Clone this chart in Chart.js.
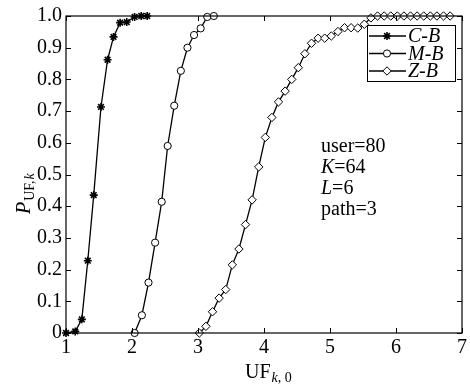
<!DOCTYPE html>
<html>
<head>
<meta charset="utf-8">
<script src="https://cdn.jsdelivr.net/npm/chart.js@4.4.0/dist/chart.umd.min.js"></script>
<style>
  html, body { margin: 0; padding: 0; background: #fff; }
  #wrap { width: 470px; height: 388px; }
</style>
</head>
<body>
<div id="wrap"><canvas id="myChart" width="470" height="388"></canvas></div>
<script>
const seriesNames = ['C-B', 'M-B', 'Z-B'];

const cbX = [1.00, 1.14, 1.24, 1.33, 1.42, 1.53, 1.63, 1.72, 1.82, 1.92, 2.04, 2.14, 2.23];
const cbY = [0, 0.005, 0.043, 0.228, 0.435, 0.713, 0.862, 0.934, 0.979, 0.981, 0.997, 1.0, 1.0];

const mbX = [2.04, 2.15, 2.25, 2.35, 2.45, 2.54, 2.64, 2.74, 2.84, 2.94, 3.04, 3.14, 3.24];
const mbY = [0, 0.056, 0.159, 0.285, 0.414, 0.59, 0.717, 0.827, 0.90, 0.94, 0.961, 0.997, 1.0];

const zbX = [3.02, 3.12, 3.22, 3.32, 3.42, 3.52, 3.62, 3.72, 3.82, 3.92,
             4.02, 4.12, 4.22, 4.32, 4.42, 4.52, 4.62, 4.72, 4.82, 4.92,
             5.02, 5.12, 5.22, 5.32, 5.42, 5.52, 5.62, 5.72, 5.82, 5.92,
             6.02, 6.12, 6.22, 6.32, 6.42, 6.52, 6.62, 6.72, 6.82];
const zbY = [0, 0.021, 0.067, 0.110, 0.137, 0.215, 0.265, 0.342, 0.420, 0.524,
             0.617, 0.680, 0.729, 0.763, 0.800, 0.837, 0.881, 0.914, 0.930, 0.930,
             0.937, 0.951, 0.963, 0.963, 0.962, 0.974, 0.994, 1.0, 1.0, 1.0,
             1.0, 1.0, 1.0, 1.0, 1.0, 1.0, 1.0, 1.0, 1.0];

const xTicks = [1, 2, 3, 4, 5, 6, 7];
const yTicks = [0, 0.1, 0.2, 0.3, 0.4, 0.5, 0.6, 0.7, 0.8, 0.9, 1.0];
const paramLines = [['user', '=80'], ['K', '=64'], ['L', '=6'], ['path', '=3']];

const SERIF = "'Liberation Serif', 'Times New Roman', serif";

function pts(xs, ys) {
  return xs.map((x, i) => ({ x: x, y: ys[i] }));
}

// inward ticks, frame, legend box, parameter note and axis titles
const decor = {
  id: 'decor',
  afterDraw(chart) {
    const ctx = chart.ctx;
    const a = chart.chartArea;
    const sx = chart.scales.x, sy = chart.scales.y;
    ctx.save();
    ctx.strokeStyle = '#000';
    ctx.lineWidth = 1.2;
    ctx.strokeRect(a.left, a.top, a.right - a.left, a.bottom - a.top);
    ctx.beginPath();
    xTicks.forEach(v => {
      const px = Math.round(sx.getPixelForValue(v)) + 0.5;
      ctx.moveTo(px, a.bottom); ctx.lineTo(px, a.bottom - 5);
      ctx.moveTo(px, a.top); ctx.lineTo(px, a.top + 5);
    });
    yTicks.forEach(v => {
      const py = Math.round(sy.getPixelForValue(v)) + 0.5;
      ctx.moveTo(a.left, py); ctx.lineTo(a.left + 5, py);
      ctx.moveTo(a.right, py); ctx.lineTo(a.right - 5, py);
    });
    ctx.lineWidth = 1;
    ctx.stroke();

    // legend
    const lx = 367, ly = 25, lw = 88, lh = 56;
    ctx.fillStyle = '#fff';
    ctx.fillRect(lx, ly, lw, lh);
    ctx.strokeStyle = '#000';
    ctx.lineWidth = 1;
    ctx.strokeRect(lx + 0.5, ly + 0.5, lw, lh);
    chart.data.datasets.forEach((ds, i) => {
      const y = 36 + i * 17.5;
      ctx.beginPath();
      ctx.moveTo(lx + 2, y); ctx.lineTo(lx + 39, y);
      ctx.lineWidth = 1.3;
      ctx.strokeStyle = '#000';
      ctx.stroke();
      ctx.fillStyle = ds.pointBackgroundColor;
      ctx.strokeStyle = '#000';
      ctx.lineWidth = ds.pointBorderWidth;
      Chart.helpers.drawPoint(ctx, {
        pointStyle: ds.pointStyle, radius: ds.pointRadius, rotation: 0, borderWidth: ds.pointBorderWidth
      }, lx + 20, y);
      ctx.fillStyle = '#000';
      ctx.font = 'italic 20px ' + SERIF;
      ctx.textBaseline = 'middle';
      ctx.textAlign = 'left';
      ctx.fillText(ds.label, lx + 41, y + 1);
    });

    // parameter note
    ctx.fillStyle = '#000';
    ctx.textBaseline = 'alphabetic';
    paramLines.forEach((p, i) => {
      const y = 152 + i * 21;
      const italic = p[0].length === 1;
      ctx.font = (italic ? 'italic ' : '') + '20px ' + SERIF;
      ctx.fillText(p[0], 321, y);
      const w = ctx.measureText(p[0]).width;
      ctx.font = '20px ' + SERIF;
      ctx.fillText(p[1], 321 + w, y);
    });

    // x axis title: UF with subscript k,0
    ctx.font = '20px ' + SERIF;
    ctx.fillText('UF', 245, 378);
    let w = ctx.measureText('UF').width;
    ctx.font = 'italic 14px ' + SERIF;
    ctx.fillText('k', 245 + w + 1, 382);
    let w2 = ctx.measureText('k').width;
    ctx.font = '14px ' + SERIF;
    ctx.fillText(', 0', 245 + w + 1 + w2, 382);

    // y axis title: P with subscript UF,k
    ctx.translate(30, 214);
    ctx.rotate(-Math.PI / 2);
    ctx.font = 'italic 20px ' + SERIF;
    ctx.fillText('P', 0, 0);
    w = ctx.measureText('P').width;
    ctx.font = '14px ' + SERIF;
    ctx.fillText('UF,', w + 1, 4);
    w2 = ctx.measureText('UF,').width;
    ctx.font = 'italic 14px ' + SERIF;
    ctx.fillText('k', w + 2 + w2, 4);
    ctx.restore();
  }
};

function series(label, xs, ys, style, radius, bw) {
  return {
    label: label,
    data: pts(xs, ys),
    borderColor: '#000',
    borderWidth: 1.3,
    backgroundColor: '#fff',
    pointStyle: style,
    pointRadius: radius,
    pointBorderWidth: bw,
    pointBorderColor: '#000',
    pointBackgroundColor: style === 'star' ? '#000' : '#fff',
    tension: 0,
    clip: false
  };
}

var ctx = document.getElementById('myChart').getContext('2d');
var chart = new Chart(ctx, {
  type: 'line',
  data: {
    datasets: [
      series(seriesNames[0], cbX, cbY, 'star', 4, 1.6),
      series(seriesNames[1], mbX, mbY, 'circle', 3.6, 1),
      series(seriesNames[2], zbX, zbY, 'rectRot', 4.2, 1)
    ]
  },
  plugins: [decor],
  options: {
    responsive: false,
    animation: false,
    events: [],
    layout: { padding: { top: 15, right: 1, left: 0, bottom: 0 } },
    plugins: { legend: { display: false }, tooltip: { enabled: false } },
    scales: {
      x: {
        type: 'linear',
        min: 1, max: 7,
        afterFit(s) { s.height = 55; },
        afterBuildTicks(s) { s.ticks = xTicks.map(v => ({ value: v })); },
        grid: { display: false, drawTicks: false },
        border: { display: false },
        ticks: { color: '#000', padding: 3, font: { family: SERIF, size: 20 } }
      },
      y: {
        type: 'linear',
        min: 0, max: 1,
        afterFit(s) { s.width = 66; },
        afterBuildTicks(s) { s.ticks = yTicks.map(v => ({ value: v })); },
        grid: { display: false, drawTicks: false },
        border: { display: false },
        ticks: {
          color: '#000', padding: 4, font: { family: SERIF, size: 20 },
          callback: v => (v === 0 ? '0' : v.toFixed(1))
        }
      }
    }
  }
});
</script>
</body>
</html>
